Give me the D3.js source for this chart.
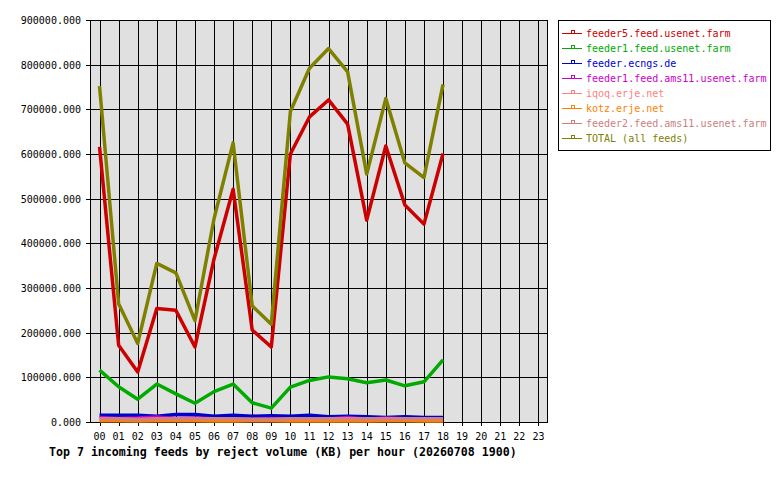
<!DOCTYPE html>
<html>
<head>
<meta charset="utf-8">
<script src="https://cdn.jsdelivr.net/npm/d3@7"></script>
<style>
  body { margin: 0; background: #fff; }
  text { font-family: "DejaVu Sans Mono", monospace; }
</style>
</head>
<body>
<div id="chart"></div>
<script>
// hours on the x axis
var hours = d3.range(24).map(function(h){ return (h < 10 ? "0" : "") + h; });
var yTicks = [0, 100000, 200000, 300000, 400000, 500000, 600000, 700000, 800000, 900000];

var feedNames = [
  "feeder5.feed.usenet.farm",
  "feeder1.feed.usenet.farm",
  "feeder.ecngs.de",
  "feeder1.feed.ams11.usenet.farm",
  "iqoq.erje.net",
  "kotz.erje.net",
  "feeder2.feed.ams11.usenet.farm",
  "TOTAL (all feeds)"
];
var feedColors = ["#cc0000", "#00aa00", "#0000cc", "#cc00cc", "#ff8080", "#ff8000", "#cc8080", "#808000"];

var feeder5 = [616000, 172000, 112000, 254000, 250000, 168000, 365000, 521000, 206000, 168000, 600000, 683000, 721000, 667000, 452000, 618000, 486000, 443000, 601000];
var feeder1 = [116000, 79000, 51000, 85000, 63000, 42000, 68000, 85000, 43000, 31000, 78000, 93000, 101000, 97000, 88000, 94000, 81000, 90000, 139000];
var ecngs   = [15000, 15000, 15000, 13000, 17000, 17000, 13000, 15000, 13000, 14000, 13000, 15000, 12000, 13000, 12000, 10000, 12000, 10000, 10000];
var ams11   = [10000, 8000, 9000, 11000, 8000, 9000, 7000, 7000, 6000, 7000, 6000, 6000, 7000, 10000, 6000, 9000, 7000, 6000, 6000];
var iqoq    = [5000, 5000, 4000, 5000, 6000, 5000, 4000, 5000, 4000, 4000, 5000, 5000, 4000, 5000, 4000, 4000, 5000, 4000, 4000];
var kotz    = [3000, 3000, 2000, 3000, 3000, 3000, 2000, 2000, 3000, 3000, 2000, 2000, 2000, 3000, 2000, 3000, 3000, 2000, 2000];
var feeder2 = [7000, 7000, 6000, 7000, 7000, 7000, 7000, 7000, 6000, 6000, 7000, 7000, 7000, 7000, 7000, 7000, 7000, 7000, 7000];
var total   = [752000, 265000, 176000, 355000, 334000, 227000, 455000, 625000, 260000, 219000, 695000, 792000, 836000, 784000, 555000, 724000, 580000, 547000, 756000];

var series = [feeder5, feeder1, ecngs, ams11, iqoq, kotz, feeder2, total];

var W = 780, H = 480;
var margin = { top: 20, right: 232, bottom: 58, left: 90 };
var width = W - margin.left - margin.right,   // 458
    height = H - margin.top - margin.bottom;  // 402

var svg = d3.select("#chart").append("svg")
  .attr("width", W)
  .attr("height", H);

var g = svg.append("g")
  .attr("transform", "translate(" + margin.left + "," + margin.top + ")");

var x = d3.scalePoint().domain(hours).range([0, width]).padding(0.5);
var y = d3.scaleLinear().domain([0, 900000]).range([height, 0]);

g.append("rect")
  .attr("width", width)
  .attr("height", height)
  .attr("fill", "#e0e0e0");

// grid
g.selectAll(".hgrid").data(yTicks).enter().append("line")
  .attr("x1", -4).attr("x2", width)
  .attr("y1", function(d){ return Math.round(y(d)) + 0.5; })
  .attr("y2", function(d){ return Math.round(y(d)) + 0.5; })
  .attr("stroke", "#000");

g.selectAll(".vgrid").data(hours).enter().append("line")
  .attr("x1", function(d){ return Math.round(x(d)) + 0.5; })
  .attr("x2", function(d){ return Math.round(x(d)) + 0.5; })
  .attr("y1", 0).attr("y2", height + 4)
  .attr("stroke", "#000");

g.append("rect")
  .attr("x", 0.5).attr("y", 0.5)
  .attr("width", width - 1).attr("height", height)
  .attr("fill", "none")
  .attr("stroke", "#000");

// labels
g.selectAll(".ylab").data(yTicks).enter().append("text")
  .attr("x", -9)
  .attr("y", function(d){ return y(d) + 4; })
  .attr("text-anchor", "end")
  .attr("font-size", "10px")
  .text(function(d){ return d3.format(".3f")(d); });

g.selectAll(".xlab").data(hours).enter().append("text")
  .attr("x", function(d){ return x(d); })
  .attr("y", height + 18)
  .attr("text-anchor", "middle")
  .attr("font-size", "10px")
  .text(function(d){ return d; });

svg.append("text")
  .attr("x", 49)
  .attr("y", 456)
  .attr("font-size", "11.6px")
  .attr("font-weight", "bold")
  .text("Top 7 incoming feeds by reject volume (KB) per hour (20260708 1900)");

// lines
var line = d3.line()
  .x(function(d, i){ return x(hours[i]); })
  .y(function(d){ return y(d); });

series.forEach(function(s, k){
  g.append("path")
    .datum(s)
    .attr("d", line)
    .attr("fill", "none")
    .attr("stroke", feedColors[k])
    .attr("stroke-width", 3.5)
    .attr("stroke-linejoin", "round");
});

// legend
var legend = svg.append("g").attr("transform", "translate(558,20)");
legend.append("rect")
  .attr("x", 0.5).attr("y", 0.5)
  .attr("width", 212).attr("height", 130)
  .attr("fill", "#fff")
  .attr("stroke", "#000");

var item = legend.selectAll(".item").data(feedNames).enter().append("g")
  .attr("transform", function(d, i){ return "translate(0," + (13 + i * 15) + ")"; });

item.append("line")
  .attr("x1", 4).attr("x2", 24)
  .attr("y1", 0.5).attr("y2", 0.5)
  .attr("stroke", function(d, i){ return feedColors[i]; });
item.append("rect")
  .attr("x", 13.5).attr("y", -2.5)
  .attr("width", 3).attr("height", 3)
  .attr("fill", "none")
  .attr("stroke", function(d, i){ return feedColors[i]; });
item.append("text")
  .attr("x", 28)
  .attr("y", 4)
  .attr("font-size", "10px")
  .attr("fill", function(d, i){ return feedColors[i]; })
  .text(function(d){ return d; });
</script>
</body>
</html>
